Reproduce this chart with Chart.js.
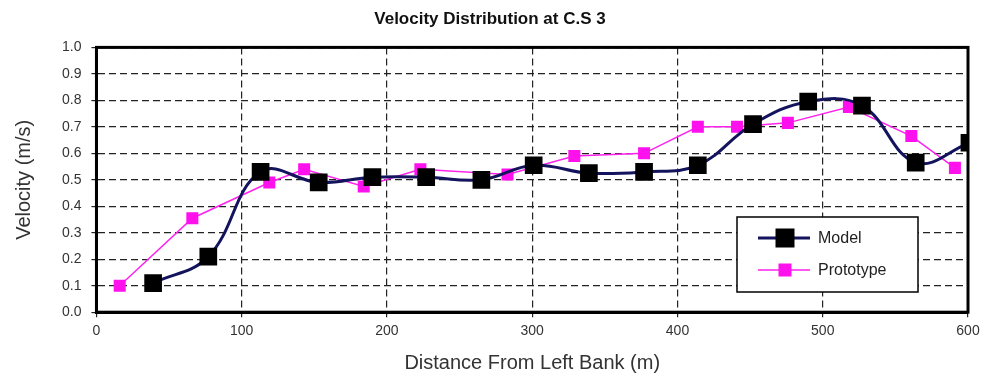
<!DOCTYPE html>
<html>
<head>
<meta charset="utf-8">
<script src="https://cdn.jsdelivr.net/npm/chart.js@4/dist/chart.umd.min.js"></script>
<style>
  html, body { margin: 0; padding: 0; background: #fff; }
  #wrap { width: 988px; height: 383px; }
</style>
</head>
<body>
<div id="wrap"><canvas id="velChart" width="988" height="383"></canvas></div>
<script>
// distances (m) and velocities (m/s)
const modelX = [39, 77, 113, 153, 190, 227, 265, 301, 339, 377, 414, 452, 490, 527, 564, 601];
const modelY = [0.11, 0.21, 0.53, 0.49, 0.51, 0.51, 0.50, 0.555, 0.525, 0.53, 0.555, 0.71, 0.795, 0.78, 0.565, 0.64];

const protoX = [16, 66, 119, 143, 184, 223, 283, 329, 377, 414, 441, 476, 518, 561, 591];
const protoY = [0.10, 0.355, 0.49, 0.54, 0.475, 0.54, 0.52, 0.59, 0.60, 0.70, 0.70, 0.715, 0.775, 0.665, 0.545];

const xTicks = [0, 100, 200, 300, 400, 500, 600];
const yTicks = [0.0, 0.1, 0.2, 0.3, 0.4, 0.5, 0.6, 0.7, 0.8, 0.9, 1.0];

const FONT = "'Liberation Sans', Arial, sans-serif";

function toPoints(xs, ys) {
    return xs.map((x, i) => ({ x: x, y: ys[i] }));
}

// frame around the plot area
const frame = {
    id: 'frame',
    afterDatasetsDraw(chart) {
        const a = chart.chartArea;
        const ctx = chart.ctx;
        ctx.save();
        ctx.strokeStyle = '#000';
        ctx.lineWidth = 3;
        ctx.strokeRect(a.left, a.top, a.right - a.left, a.bottom - a.top);
        ctx.restore();
    }
};

// boxed legend sitting inside the plot, lower right
const boxLegend = {
    id: 'boxLegend',
    afterDraw(chart) {
        const ctx = chart.ctx;
        const x = 737, y = 217, w = 181, h = 75;
        ctx.save();
        ctx.fillStyle = '#fff';
        ctx.fillRect(x, y, w, h);
        ctx.strokeStyle = '#000';
        ctx.lineWidth = 1.5;
        ctx.strokeRect(x, y, w, h);
        ctx.font = '16px ' + FONT;
        ctx.textBaseline = 'middle';
        chart.data.datasets.forEach((ds, i) => {
            const cy = y + 21 + i * 32;
            ctx.strokeStyle = ds.borderColor;
            ctx.lineWidth = ds.borderWidth;
            ctx.beginPath();
            ctx.moveTo(x + 21, cy);
            ctx.lineTo(x + 73, cy);
            ctx.stroke();
            const s = ds.legendSize;
            ctx.fillStyle = ds.pointBackgroundColor;
            ctx.fillRect(x + 48 - s / 2, cy - s / 2, s, s);
            ctx.fillStyle = '#222';
            ctx.fillText(ds.label, x + 81, cy + 1);
        });
        ctx.restore();
    }
};

const ctx = document.getElementById('velChart').getContext('2d');
new Chart(ctx, {
    type: 'line',
    data: {
        datasets: [
            {
                label: 'Model',
                data: toPoints(modelX, modelY),
                borderColor: '#14145e',
                borderWidth: 3,
                tension: 0.4,
                pointStyle: 'rect',
                pointRadius: 12.5,
                pointBackgroundColor: '#000',
                pointBorderColor: '#000',
                pointBorderWidth: 0,
                legendSize: 19
            },
            {
                label: 'Prototype',
                data: toPoints(protoX, protoY),
                borderColor: '#ff22ee',
                borderWidth: 1.5,
                tension: 0,
                pointStyle: 'rect',
                pointRadius: 8.5,
                pointBackgroundColor: '#ff11ee',
                pointBorderColor: '#ff11ee',
                pointBorderWidth: 0,
                legendSize: 13
            }
        ]
    },
    options: {
        responsive: false,
        animation: false,
        layout: { padding: { left: 12, right: 20, top: 9, bottom: 8 } },
        plugins: {
            legend: { display: false },
            tooltip: { enabled: false },
            title: {
                display: true,
                text: 'Velocity Distribution at C.S 3',
                color: '#111',
                font: { family: FONT, size: 17, weight: 'bold' },
                padding: { top: 0, bottom: 18 }
            }
        },
        scales: {
            x: {
                type: 'linear',
                min: 0,
                max: 600,
                afterBuildTicks(axis) { axis.ticks = xTicks.map(v => ({ value: v })); },
                ticks: {
                    color: '#333',
                    font: { family: FONT, size: 14 },
                    maxRotation: 0,
                    padding: 6
                },
                grid: {
                    color: '#222',
                    lineWidth: 1.2,
                    tickLength: 5,
                    drawOnChartArea: true
                },
                border: { display: true, color: '#000', width: 3, dash: [7, 4] },
                title: {
                    display: true,
                    text: 'Distance From Left Bank (m)',
                    color: '#333',
                    font: { family: FONT, size: 20 },
                    padding: { top: 5, bottom: 0 }
                }
            },
            y: {
                min: 0,
                max: 1,
                afterBuildTicks(axis) { axis.ticks = yTicks.map(v => ({ value: v })); },
                ticks: {
                    color: '#333',
                    font: { family: FONT, size: 14 },
                    padding: 10,
                    callback: v => v.toFixed(1)
                },
                grid: {
                    color: '#222',
                    lineWidth: 1.2,
                    tickLength: 5
                },
                border: { display: true, color: '#000', width: 3, dash: [7, 4] },
                title: {
                    display: true,
                    text: 'Velocity (m/s)',
                    color: '#333',
                    font: { family: FONT, size: 20 },
                    padding: { top: 0, bottom: 16 }
                }
            }
        }
    },
    plugins: [frame, boxLegend]
});
</script>
</body>
</html>
